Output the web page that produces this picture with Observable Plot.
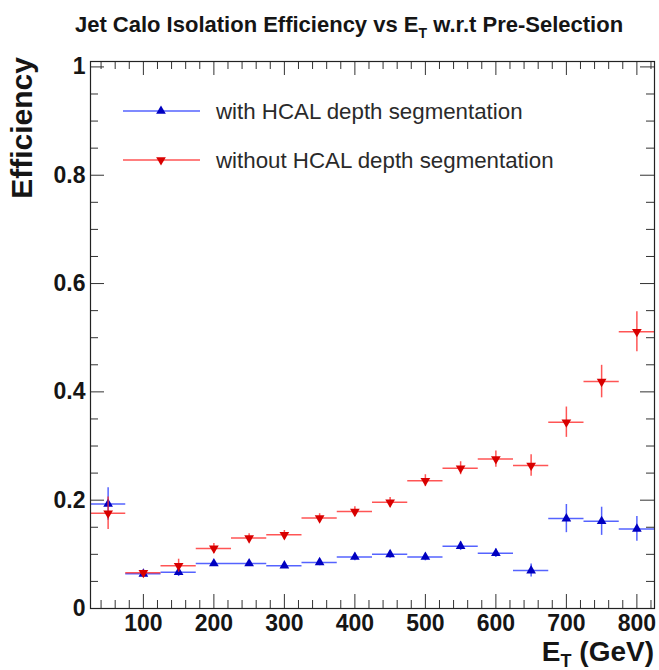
<!DOCTYPE html>
<html>
<head>
<meta charset="utf-8">
<script src="https://cdn.jsdelivr.net/npm/d3@7"></script>
<script src="https://cdn.jsdelivr.net/npm/@observablehq/plot@0.6"></script>
<style>
  html, body { margin: 0; padding: 0; background: #fff; }
  #wrap { position: relative; width: 659px; height: 670px; overflow: hidden; }
  #wrap svg { position: absolute; left: 0; top: 0; }
</style>
</head>
<body>
<div id="wrap"></div>
<script>
// ---- data ----
const etBins = [50, 100, 150, 200, 250, 300, 350, 400, 450, 500, 550, 600, 650, 700, 750, 800];
const binHalfWidth = 25;
const withSeg    = [0.193, 0.064, 0.067, 0.083, 0.083, 0.079, 0.085, 0.095, 0.100, 0.095, 0.115, 0.102, 0.070, 0.166, 0.161, 0.147];
const withSegErr = [0.030, 0.004, 0.008, 0.005, 0.005, 0.005, 0.006, 0.007, 0.007, 0.007, 0.008, 0.008, 0.012, 0.026, 0.026, 0.023];
const withoutSeg    = [0.176, 0.066, 0.079, 0.111, 0.130, 0.136, 0.167, 0.179, 0.196, 0.236, 0.259, 0.276, 0.264, 0.344, 0.419, 0.511];
const withoutSegErr = [0.030, 0.005, 0.012, 0.009, 0.008, 0.008, 0.008, 0.009, 0.009, 0.011, 0.012, 0.015, 0.020, 0.028, 0.030, 0.037];
const seriesNames = ["with HCAL depth segmentation", "without HCAL depth segmentation"];
const xTickLabels = [100, 200, 300, 400, 500, 600, 700, 800];
const yTickLabels = [0, 0.2, 0.4, 0.6, 0.8, 1];
const titleText = ["Jet Calo Isolation Efficiency vs E", "T", " w.r.t Pre-Selection"];
const yTitle = "Efficiency";
const xTitle = ["E", "T", " (GeV)"];

// ---- layout / style ----
const W = 659, H = 670;
const mL = 90, mR = 5, mT = 61, mB = 62;
const frameW = W - mL - mR, frameH = H - mT - mB;
const blueLine = "#2a3cff", blueMark = "#0000c0";
const redLine = "#ff2a2a", redMark = "#d80000";
const font = "'Liberation Sans', Arial, Helvetica, sans-serif";

const triangleDown = {
  draw(context, size) {
    const y = -Math.sqrt(size / (Math.sqrt(3) * 3));
    context.moveTo(0, -y * 2);
    context.lineTo(-Math.sqrt(3) * y, y);
    context.lineTo(Math.sqrt(3) * y, y);
    context.closePath();
  }
};

const blueRows = etBins.map((x, i) => ({x, y: withSeg[i], e: withSegErr[i]}));
const redRows = etBins.map((x, i) => ({x, y: withoutSeg[i], e: withoutSegErr[i]}));

const xMinor = d3.range(40, 825, 20).filter(v => v % 100 !== 0);
const yMinor = d3.range(0, 1.001, 0.05).map(v => +v.toFixed(2)).filter(v => Math.round(v * 100) % 20 !== 0);

const majLen = 14, minLen = 8;

function seriesMarks(rows, line, mark, symbol) {
  return [
    Plot.ruleY(rows, {y: "y", x1: d => d.x - binHalfWidth, x2: d => d.x + binHalfWidth, stroke: line, strokeWidth: 1.5, strokeOpacity: 0.8}),
    Plot.ruleX(rows, {x: "x", y1: d => d.y - d.e, y2: d => d.y + d.e, stroke: line, strokeWidth: 1.5, strokeOpacity: 0.8}),
    Plot.dot(rows, {x: "x", y: "y", symbol, r: 3.6, fill: mark, stroke: "none"})
  ];
}

const chart = Plot.plot({
  width: W, height: H,
  marginLeft: mL, marginRight: mR, marginTop: mT, marginBottom: mB,
  x: {domain: [25, 825]},
  y: {domain: [0, 1.01]},
  style: {fontFamily: font, fontSize: "23px", fontWeight: "bold", color: "#151515", background: "white", overflow: "visible"},
  marks: [
    // inward ticks: bottom & top
    Plot.ruleX(xMinor, {x: d => d, insetTop: frameH - minLen, stroke: "#333"}),
    Plot.ruleX(xTickLabels, {x: d => d, insetTop: frameH - majLen, stroke: "#333"}),
    Plot.ruleX(xMinor, {x: d => d, insetBottom: frameH - minLen, stroke: "#333"}),
    Plot.ruleX(xTickLabels, {x: d => d, insetBottom: frameH - majLen, stroke: "#333"}),
    // inward ticks: left & right
    Plot.ruleY(yMinor, {y: d => d, insetRight: frameW - minLen, stroke: "#333"}),
    Plot.ruleY(yTickLabels, {y: d => d, insetRight: frameW - majLen, stroke: "#333"}),
    Plot.ruleY(yMinor, {y: d => d, insetLeft: frameW - minLen, stroke: "#333"}),
    Plot.ruleY(yTickLabels, {y: d => d, insetLeft: frameW - majLen, stroke: "#333"}),
    Plot.axisX(xTickLabels, {tickSize: 0, tickPadding: 6, label: null, tickFormat: d => String(d)}),
    Plot.axisY(yTickLabels, {tickSize: 0, tickPadding: 5, label: null, tickFormat: d => String(d)}),
    ...seriesMarks(blueRows, blueLine, blueMark, "triangle"),
    ...seriesMarks(redRows, redLine, redMark, triangleDown),
    Plot.frame({stroke: "#222", strokeWidth: 1.2})
  ]
});

const wrap = document.getElementById("wrap");
wrap.appendChild(chart);

// ---- overlay: title, axis titles, legend ----
const ov = d3.select(wrap).append("svg")
  .attr("width", W).attr("height", H)
  .style("font-family", font);

const t = ov.append("text").attr("x", 349).attr("y", 32).attr("text-anchor", "middle")
  .attr("font-size", 22).attr("font-weight", "bold").attr("fill", "#151515");
t.append("tspan").text(titleText[0]);
t.append("tspan").attr("dy", 6).attr("font-size", 14).text(titleText[1]);
t.append("tspan").attr("dy", -6).text(titleText[2]);

ov.append("text").attr("transform", "translate(32,57) rotate(-90)").attr("text-anchor", "end")
  .attr("font-size", 30).attr("font-weight", "bold").attr("fill", "#151515").text(yTitle);

const xt = ov.append("text").attr("x", 654).attr("y", 661).attr("text-anchor", "end")
  .attr("font-size", 28).attr("font-weight", "bold").attr("fill", "#151515");
xt.append("tspan").text(xTitle[0]);
xt.append("tspan").attr("dy", 6).attr("font-size", 18).text(xTitle[1]);
xt.append("tspan").attr("dy", -6).text(xTitle[2]);

const legendItems = [
  {name: seriesNames[0], line: blueLine, mark: blueMark, sym: d3.symbolTriangle, y: 111},
  {name: seriesNames[1], line: redLine, mark: redMark, sym: triangleDown, y: 160}
];
for (const it of legendItems) {
  ov.append("line").attr("x1", 123).attr("x2", 200).attr("y1", it.y).attr("y2", it.y)
    .attr("stroke", it.line).attr("stroke-width", 1.5).attr("stroke-opacity", 0.8);
  ov.append("path").attr("d", d3.symbol(it.sym, Math.PI * 3.6 * 3.6)())
    .attr("transform", `translate(161,${it.y})`).attr("fill", it.mark);
  ov.append("text").attr("x", 216).attr("y", it.y).attr("dy", "0.35em")
    .attr("font-size", 22.3).attr("fill", "#2a2a2a").text(it.name);
}
</script>
</body>
</html>
